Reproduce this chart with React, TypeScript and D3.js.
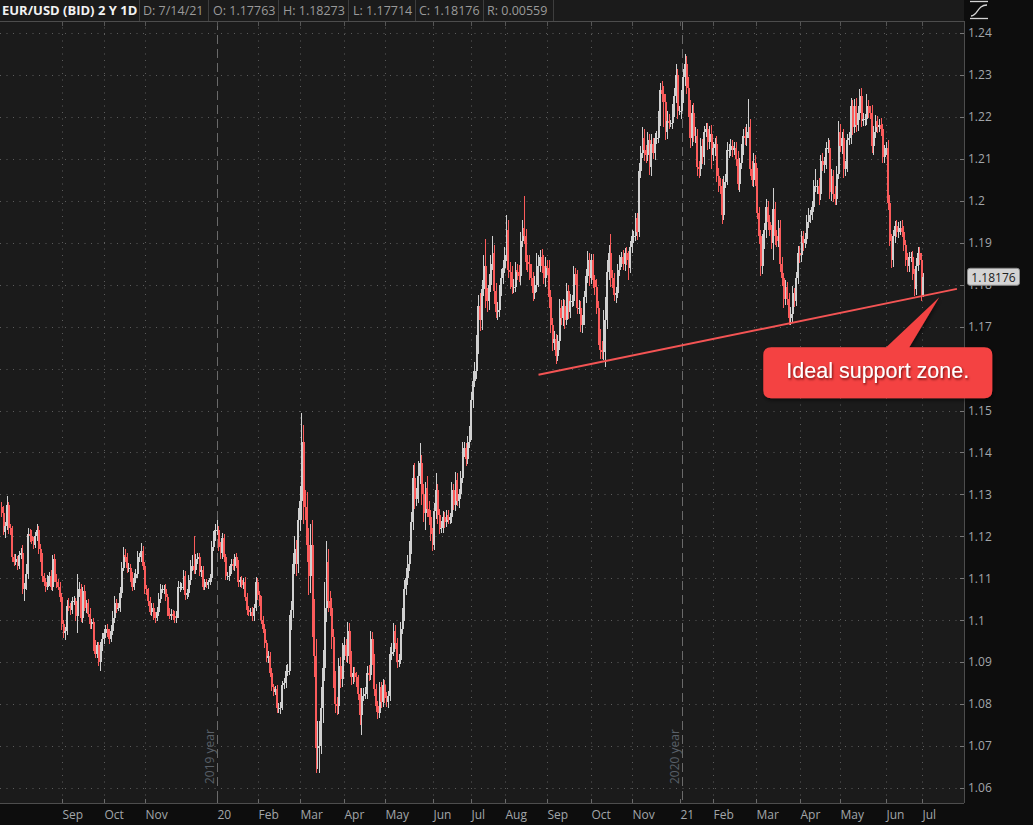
import React from "react";
import * as d3 from "d3";

// ---------- DATA ----------
const symbolTitle = "EUR/USD (BID) 2 Y 1D";
const headerFields = ["D: 7/14/21", "O: 1.17763", "H: 1.18273", "L: 1.17714", "C: 1.18176", "R: 0.00559"];
const lastPrice = 1.18176;
const firstOpen = 1.127;

// daily closes, one trading week per line (Jul 15 2019 .. Jul 14 2021)
const closes = [
  1.1255, 1.1210, 1.1225, 1.1275, 1.1220,
  1.1210, 1.1150, 1.1140, 1.1145, 1.1130,
  1.1155, 1.1160, 1.1075, 1.1080, 1.1110,
  1.1205, 1.1200, 1.1190, 1.1180, 1.1200,
  1.1215, 1.1170, 1.1150, 1.1105, 1.1090,
  1.1080, 1.1095, 1.1105, 1.1080, 1.1145,
  1.1100, 1.1090, 1.1080, 1.1055, 1.0990,
  1.0970, 1.0975, 1.1035, 1.1030, 1.1025,
  1.1045, 1.1045, 1.1010, 1.1065, 1.1075,
  1.1005, 1.1070, 1.1030, 1.1040, 1.1015,
  1.0990, 1.0995, 1.0940, 1.0920, 1.0940,
  1.0900, 1.0935, 1.0955, 1.0970, 1.0980,
  1.0970, 1.0955, 1.0975, 1.1005, 1.1040,
  1.1030, 1.1030, 1.1065, 1.1125, 1.1155,
  1.1150, 1.1125, 1.1125, 1.1105, 1.1080,
  1.1100, 1.1110, 1.1150, 1.1150, 1.1165,
  1.1130, 1.1075, 1.1070, 1.1045, 1.1020,
  1.1030, 1.1010, 1.1005, 1.1020, 1.1050,
  1.1075, 1.1075, 1.1075, 1.1055, 1.1020,
  1.1010, 1.1015, 1.1010, 1.1005, 1.1015,
  1.1080, 1.1080, 1.1080, 1.1105, 1.1060,
  1.1065, 1.1095, 1.1130, 1.1130, 1.1120,
  1.1145, 1.1150, 1.1115, 1.1120, 1.1080,
  1.1090, 1.1085, 1.1090, 1.1100, 1.1175,
  1.1200, 1.1215, 1.1215, 1.1175, 1.1160,
  1.1195, 1.1150, 1.1105, 1.1105, 1.1120,
  1.1135, 1.1130, 1.1150, 1.1135, 1.1090,
  1.1095, 1.1085, 1.1090, 1.1055, 1.1025,
  1.1020, 1.1020, 1.1010, 1.1030, 1.1090,
  1.1060, 1.1045, 1.1000, 1.0980, 1.0945,
  1.0910, 1.0915, 1.0875, 1.0840, 1.0830,
  1.0835, 1.0790, 1.0790, 1.0795, 1.0845,
  1.0850, 1.0880, 1.0880, 1.0995, 1.1025,
  1.1135, 1.1170, 1.1135, 1.1240, 1.1285,
  1.1425, 1.1280, 1.1270, 1.1180, 1.1105,
  1.1180, 1.1005, 1.0915, 1.0695, 1.0700,
  1.0720, 1.0790, 1.0885, 1.1030, 1.1140,
  1.1045, 1.1030, 1.0960, 1.0860, 1.0800,
  1.0795, 1.0890, 1.0860, 1.0920, 1.0940,
  1.0915, 1.0975, 1.0910, 1.0865, 1.0875,
  1.0865, 1.0855, 1.0825, 1.0775, 1.0820,
  1.0825, 1.0825, 1.0875, 1.0870, 1.0955,
  1.0905, 1.0835, 1.0795, 1.0780, 1.0840,
  1.0805, 1.0845, 1.0815, 1.0805, 1.0820,
  1.0920, 1.0925, 1.0975, 1.0945, 1.0900,
  1.0905, 1.0980, 1.1010, 1.1075, 1.1100,
  1.1135, 1.1170, 1.1235, 1.1340, 1.1290,
  1.1295, 1.1345, 1.1375, 1.1300, 1.1255,
  1.1315, 1.1265, 1.1245, 1.1205, 1.1180,
  1.1260, 1.1310, 1.1250, 1.1220, 1.1220,
  1.1245, 1.1235, 1.1250, 1.1240, 1.1245,
  1.1310, 1.1275, 1.1335, 1.1285, 1.1300,
  1.1340, 1.1405, 1.1410, 1.1385, 1.1425,
  1.1445, 1.1525, 1.1570, 1.1595, 1.1655,
  1.1750, 1.1715, 1.1790, 1.1845, 1.1775,
  1.1760, 1.1800, 1.1850, 1.1875, 1.1785,
  1.1735, 1.1740, 1.1785, 1.1815, 1.1840,
  1.1870, 1.1930, 1.1835, 1.1830, 1.1795,
  1.1795, 1.1835, 1.1830, 1.1820, 1.1905,
  1.1935, 1.1915, 1.1855, 1.1850, 1.1835,
  1.1815, 1.1780, 1.1800, 1.1815, 1.1845,
  1.1865, 1.1845, 1.1815, 1.1845, 1.1840,
  1.1770, 1.1705, 1.1660, 1.1670, 1.1630,
  1.1665, 1.1745, 1.1720, 1.1750, 1.1715,
  1.1785, 1.1735, 1.1760, 1.1760, 1.1825,
  1.1815, 1.1745, 1.1745, 1.1705, 1.1715,
  1.1770, 1.1820, 1.1860, 1.1815, 1.1860,
  1.1810, 1.1795, 1.1745, 1.1675, 1.1645,
  1.1640, 1.1715, 1.1720, 1.1830, 1.1875,
  1.1815, 1.1810, 1.1775, 1.1780, 1.1835,
  1.1855, 1.1865, 1.1850, 1.1875, 1.1860,
  1.1840, 1.1890, 1.1915, 1.1915, 1.1960,
  1.1925, 1.2070, 1.2115, 1.2150, 1.2120,
  1.2110, 1.2145, 1.2080, 1.2135, 1.2115,
  1.2150, 1.2150, 1.2195, 1.2265, 1.2255,
  1.2235, 1.2165, 1.2190, 1.2185, 1.2185,
  1.2215, 1.2250, 1.2300, 1.2215, 1.2215,
  1.2250, 1.2295, 1.2325, 1.2270, 1.2220,
  1.2150, 1.2210, 1.2155, 1.2155, 1.2080,
  1.2075, 1.2130, 1.2105, 1.2165, 1.2170,
  1.2140, 1.2160, 1.2110, 1.2125, 1.2135,
  1.2060, 1.2040, 1.2035, 1.1965, 1.2045,
  1.2050, 1.2120, 1.2120, 1.2130, 1.2120,
  1.2125, 1.2100, 1.2040, 1.2090, 1.2120,
  1.2155, 1.2150, 1.2165, 1.2175, 1.2075,
  1.2050, 1.2090, 1.2060, 1.1970, 1.1915,
  1.1845, 1.1900, 1.1930, 1.1985, 1.1950,
  1.1930, 1.1900, 1.1980, 1.1915, 1.1905,
  1.1935, 1.1850, 1.1815, 1.1765, 1.1795,
  1.1765, 1.1720, 1.1730, 1.1780, 1.1760,
  1.1815, 1.1875, 1.1870, 1.1915, 1.1900,
  1.1910, 1.1950, 1.1965, 1.1965, 1.1985,
  1.2035, 1.2035, 1.2035, 1.2015, 1.2095,
  1.2085, 1.2090, 1.2125, 1.2125, 1.2020,
  1.2060, 1.2015, 1.2005, 1.2065, 1.2165,
  1.2130, 1.2150, 1.2075, 1.2080, 1.2145,
  1.2150, 1.2225, 1.2175, 1.2225, 1.2180,
  1.2210, 1.2250, 1.2190, 1.2195, 1.2195,
  1.2225, 1.2215, 1.2210, 1.2130, 1.2165,
  1.2190, 1.2175, 1.2180, 1.2170, 1.2105,
  1.2120, 1.2125, 1.1995, 1.1905, 1.1860,
  1.1915, 1.1940, 1.1925, 1.1930, 1.1935,
  1.1925, 1.1895, 1.1860, 1.1845, 1.1865,
  1.1865, 1.1825, 1.1790, 1.1845, 1.1875,
  1.1860, 1.1776, 1.18176,
];

// wick above the body, in pips
const upperWicksPips = [
  12, 18, 10, 20, 8,
  10, 14, 9, 12, 7,
  9, 11, 20, 8, 25,
  15, 12, 14, 8, 10,
  14, 9, 12, 10, 8,
  10, 12, 9, 15, 11,
  14, 10, 8, 12, 9,
  11, 10, 14, 18, 12,
  10, 12, 9, 45, 15,
  12, 10, 14, 9, 11,
  15, 9, 10, 12, 8,
  8, 12, 15, 10, 9,
  12, 10, 14, 16, 18,
  10, 12, 15, 14, 20,
  14, 10, 12, 9, 11,
  12, 11, 14, 10, 18,
  12, 9, 10, 8, 11,
  10, 12, 9, 11, 14,
  12, 10, 9, 11, 8,
  9, 11, 10, 12, 8,
  14, 10, 9, 15, 12,
  10, 12, 14, 25, 70,
  12, 10, 11, 9, 10,
  8, 9, 7, 10, 15,
  12, 14, 24, 10, 12,
  12, 10, 9, 11, 10,
  10, 12, 9, 11, 8,
  9, 11, 10, 12, 10,
  8, 10, 11, 9, 14,
  10, 9, 12, 11, 10,
  9, 11, 10, 12, 8,
  8, 10, 12, 9, 11,
  12, 14, 15, 18, 20,
  25, 30, 22, 28, 35,
  70, 40, 30, 35, 40,
  50, 60, 45, 40, 60,
  40, 50, 45, 60, 50,
  30, 25, 22, 20, 18,
  18, 20, 22, 25, 20,
  15, 20, 18, 16, 14,
  14, 12, 15, 13, 18,
  14, 16, 15, 18, 20,
  18, 15, 14, 12, 13,
  12, 14, 13, 15, 12,
  15, 20, 18, 14, 12,
  14, 16, 18, 20, 25,
  20, 18, 22, 30, 35,
  20, 35, 47, 20, 25,
  15, 30, 20, 18, 15,
  20, 40, 15, 14, 16,
  15, 14, 12, 13, 10,
  20, 15, 18, 16, 14,
  15, 20, 16, 12, 14,
  18, 20, 25, 20, 25,
  25, 30, 20, 25, 64,
  18, 25, 20, 40, 20,
  20, 18, 15, 22, 20,
  20, 35, 25, 18, 15,
  18, 20, 15, 16, 20,
  20, 76, 18, 15, 20,
  14, 16, 20, 60, 25,
  18, 20, 25, 20, 15,
  20, 18, 15, 20, 12,
  15, 20, 18, 15, 14,
  20, 14, 18, 15, 20,
  14, 20, 18, 15, 12,
  14, 18, 20, 15, 12,
  12, 14, 18, 16, 20,
  20, 25, 50, 30, 20,
  45, 20, 18, 15, 14,
  15, 14, 18, 12, 14,
  20, 14, 15, 12, 10,
  12, 20, 15, 25, 20,
  14, 20, 15, 25, 15,
  12, 16, 20, 15, 20,
  18, 20, 25, 16, 8,
  15, 20, 25, 15, 12,
  15, 20, 24, 20, 25,
  20, 18, 22, 20, 15,
  15, 20, 18, 14, 16,
  15, 18, 20, 15, 14,
  20, 18, 15, 18, 15,
  14, 20, 15, 18, 16,
  14, 16, 18, 12, 15,
  15, 20, 18, 68, 20,
  20, 25, 20, 18, 15,
  15, 20, 18, 20, 15,
  15, 12, 50, 18, 15,
  20, 18, 15, 12, 15,
  12, 14, 16, 18, 12,
  15, 18, 16, 14, 12,
  14, 15, 18, 12, 15,
  15, 40, 14, 20, 15,
  20, 15, 14, 25, 20,
  15, 14, 20, 18, 25,
  18, 15, 20, 14, 15,
  14, 20, 15, 18, 20,
  15, 16, 18, 14, 12,
  30, 15, 12, 18, 14,
  14, 12, 15, 18, 12,
  12, 15, 20, 18, 15,
  15, 12, 14, 20, 16,
  18, 14, 12, 15, 14,
  14, 15, 12, 18, 15,
  14, 15, 10,
];

// wick below the body, in pips
const lowerWicksPips = [
  10, 6, 15, 9, 14,
  8, 12, 10, 9, 11,
  7, 10, 12, 30, 9,
  12, 14, 9, 11, 8,
  10, 12, 11, 14, 9,
  12, 9, 13, 8, 10,
  10, 12, 9, 11, 14,
  12, 16, 10, 9, 13,
  11, 9, 12, 40, 10,
  10, 12, 9, 13, 8,
  12, 10, 14, 9, 11,
  10, 21, 9, 11, 12,
  9, 12, 8, 10, 11,
  12, 9, 10, 11, 8,
  10, 12, 9, 13, 10,
  9, 12, 10, 11, 10,
  10, 12, 9, 11, 8,
  9, 10, 12, 8, 10,
  10, 9, 12, 10, 11,
  8, 10, 9, 11, 12,
  10, 12, 9, 8, 11,
  9, 10, 11, 12, 10,
  10, 12, 9, 11, 8,
  9, 8, 10, 7, 9,
  9, 10, 12, 11, 14,
  14, 12, 10, 9, 11,
  9, 10, 12, 10, 11,
  10, 9, 11, 10, 12,
  10, 9, 12, 11, 8,
  12, 10, 9, 11, 12,
  10, 12, 11, 9, 10,
  9, 10, 12, 14, 10,
  10, 12, 14, 11, 18,
  20, 25, 30, 22, 28,
  45, 50, 30, 40, 45,
  40, 45, 50, 60, 50,
  64, 40, 35, 30, 35,
  25, 20, 28, 22, 20,
  20, 18, 22, 19, 15,
  14, 18, 15, 20, 16,
  12, 14, 16, 25, 48,
  12, 14, 13, 15, 12,
  12, 15, 14, 16, 12,
  14, 12, 13, 11, 15,
  12, 14, 10, 13, 15,
  12, 10, 14, 12, 15,
  15, 18, 12, 20, 25,
  18, 15, 20, 25, 22,
  40, 20, 18, 15, 14,
  12, 18, 20, 14, 12,
  12, 14, 12, 10, 11,
  14, 12, 15, 12, 18,
  12, 14, 15, 18, 12,
  14, 16, 18, 15, 20,
  20, 25, 22, 18, 30,
  25, 20, 18, 15, 30,
  15, 20, 18, 12, 14,
  12, 14, 20, 40, 18,
  15, 12, 18, 14, 20,
  15, 18, 20, 20, 25,
  18, 20, 15, 18, 20,
  15, 18, 14, 20, 16,
  25, 20, 18, 16, 20,
  12, 20, 15, 18, 20,
  12, 18, 15, 14, 12,
  16, 14, 15, 18, 20,
  12, 14, 15, 18, 14,
  18, 20, 15, 20, 22,
  18, 20, 112, 25, 20,
  20, 18, 15, 18, 12,
  14, 12, 15, 18, 12,
  30, 12, 14, 15, 12,
  18, 12, 15, 14, 25,
  20, 14, 18, 20, 15,
  18, 14, 12, 16, 20,
  60, 20, 18, 15, 8,
  14, 16, 18, 20, 10,
  20, 18, 22, 15, 20,
  25, 20, 15, 18, 20,
  20, 15, 18, 20, 14,
  20, 16, 35, 15, 18,
  15, 20, 18, 20, 12,
  15, 12, 18, 14, 15,
  12, 18, 15, 20, 14,
  12, 18, 20, 15, 15,
  15, 18, 25, 14, 18,
  25, 20, 15, 18, 20,
  14, 16, 40, 20, 15,
  15, 20, 18, 20, 14,
  14, 16, 16, 20, 14,
  12, 14, 18, 15, 20,
  12, 14, 15, 18, 12,
  12, 15, 18, 25, 14,
  14, 18, 15, 12, 15,
  20, 18, 15, 14, 12,
  14, 18, 20, 15, 12,
  12, 15, 18, 14, 15,
  14, 18, 15, 12, 16,
  14, 18, 16, 15, 20,
  15, 14, 12, 16, 15,
  15, 12, 18, 12, 20,
  18, 15, 12, 14, 12,
  12, 14, 16, 15, 14,
  12, 14, 18, 15, 12,
  12, 16, 5,
];

const priceTicks = [1.06, 1.07, 1.08, 1.09, 1.1, 1.11, 1.12, 1.13, 1.14, 1.15, 1.16, 1.17, 1.18, 1.19, 1.2, 1.21, 1.22, 1.23, 1.24];
const monthLabels = ["Sep", "Oct", "Nov", "20", "Feb", "Mar", "Apr", "May", "Jun", "Jul", "Aug", "Sep", "Oct", "Nov", "21", "Feb", "Mar", "Apr", "May", "Jun", "Jul"];
const monthBarIndex = [34, 58, 81, 122, 145, 169, 194, 217, 244, 266, 285, 309, 334, 357, 384, 403, 427, 452, 475, 501, 521];
const yearLabels = ["2019 year", "2020 year"];
const yearBarIndex = [122, 385];
const supportBars = [304, 541];
const supportPrices = [1.1585, 1.179];
const calloutText = "Ideal support zone.";
const calloutTipBar = 531;
const calloutTipPrice = 1.177;

// ---------- CHART ----------
export default function App() {
  const W = 1033;
  const H = 825;
  const plotRight = 964;
  const plotTop = 21;
  const plotBottom = 803;
  const font = "'Open Sans', 'DejaVu Sans', sans-serif";

  const x = d3.scaleLinear().domain([-1, 545]).range([0, plotRight]);
  const y = d3.scaleLinear().domain([1.06, 1.24]).range([788, 33]);

  const bars = closes.map((c, i) => {
    const o = i === 0 ? firstOpen : closes[i - 1];
    const hi = Math.max(o, c) + upperWicksPips[i] / 10000;
    const lo = Math.min(o, c) - lowerWicksPips[i] / 10000;
    return { i, o, c, hi, lo, up: c >= o };
  });

  const upColor = "#d0d0d0";
  const downColor = "#fb5b5b";
  const gridColor = "#5c5c5c";

  const supportPath = d3
    .line<number>()
    .x((b) => x(supportBars[b]))
    .y((b) => y(supportPrices[b]))([0, 1]);

  const tipX = x(calloutTipBar);
  const tipY = y(calloutTipPrice);
  const boxL = tipX - 176;
  const boxR = tipX + 53;
  const boxT = tipY + 50;
  const boxB = tipY + 101;

  const sepX = [139, 208, 278, 348, 415, 483, 553];
  const fieldX = [143, 213, 283, 353, 419, 487];

  return (
    <div style={{ position: "absolute", left: 0, top: 0 }}>
      <svg width={W} height={H} style={{ display: "block", fontFamily: font }}>
        <defs>
          <clipPath id="plotClip">
            <rect x={0} y={plotTop} width={plotRight} height={plotBottom - plotTop} />
          </clipPath>
          <filter id="boxShadow" x="-10%" y="-20%" width="130%" height="160%">
            <feDropShadow dx="1" dy="2" stdDeviation="2" floodColor="#000" floodOpacity="0.55" />
          </filter>
          <filter id="textShadow" x="-5%" y="-20%" width="115%" height="150%">
            <feDropShadow dx="1" dy="1.5" stdDeviation="0.8" floodColor="#4a0000" floodOpacity="0.8" />
          </filter>
        </defs>

        {/* backgrounds */}
        <rect x={0} y={0} width={W} height={H} fill="#0d0d0d" />
        <rect x={0} y={0} width={plotRight} height={plotBottom} fill="#1b1b1b" />

        {/* grid */}
        <g clipPath="url(#plotClip)">
          {priceTicks.map((p) => (
            <line key={"hg" + p} x1={0} x2={plotRight} y1={Math.round(y(p)) + 0.5} y2={Math.round(y(p)) + 0.5}
              stroke={gridColor} strokeWidth={1} strokeDasharray="1,5.5" />
          ))}
          {monthBarIndex.map((b, k) => {
            const px = Math.round(x(b)) + 0.5;
            if (yearBarIndex.some((yb) => Math.abs(x(yb) - x(b)) < 6)) return null;
            return (
              <line key={"vg" + k} x1={px} x2={px} y1={plotTop} y2={plotBottom}
                stroke={gridColor} strokeWidth={1} strokeDasharray="1,5.5" />
            );
          })}
          {yearBarIndex.map((b, k) => {
            const px = Math.round(x(b)) + 0.5;
            return (
              <g key={"yl" + k}>
                <line x1={px} x2={px} y1={plotTop} y2={plotBottom} stroke="#6a6a6a" strokeWidth={1} strokeDasharray="9,5" />
                <text transform={`translate(${px - 4},784) rotate(-90)`} fontSize={12} fill="#596069">
                  {yearLabels[k]}
                </text>
              </g>
            );
          })}
        </g>

        {/* candles */}
        <g clipPath="url(#plotClip)" shapeRendering="crispEdges">
          {bars.map((d) => {
            const cx = x(d.i);
            const col = d.up ? upColor : downColor;
            const top = y(Math.max(d.o, d.c));
            const bot = y(Math.min(d.o, d.c));
            return (
              <g key={d.i}>
                <rect x={cx - 0.5} y={y(d.hi)} width={1} height={Math.max(1, y(d.lo) - y(d.hi))} fill={col} />
                <rect x={cx - 1} y={top} width={2} height={Math.max(1, bot - top)} fill={col} />
              </g>
            );
          })}
        </g>

        {/* support trend line */}
        <path d={supportPath || ""} stroke="#f45454" strokeWidth={2} fill="none" />

        {/* right axis */}
        <line x1={plotRight + 0.5} x2={plotRight + 0.5} y1={plotTop} y2={plotBottom} stroke="#4d4d4d" />
        {priceTicks.map((p) => (
          <g key={"yt" + p}>
            <line x1={plotRight - 4} x2={plotRight} y1={Math.round(y(p)) + 0.5} y2={Math.round(y(p)) + 0.5} stroke="#777" />
            <text x={plotRight + 4} y={y(p)} dy="0.36em" fontSize={12} fill="#a2a6aa">
              {String(+p.toFixed(2))}
            </text>
          </g>
        ))}

        {/* bottom axis */}
        <line x1={0} x2={plotRight} y1={plotBottom + 0.5} y2={plotBottom + 0.5} stroke="#4d4d4d" />
        {monthBarIndex.map((b, k) => {
          const px = Math.round(x(b)) + 0.5;
          return (
            <g key={"xt" + k}>
              <line x1={px} x2={px} y1={plotBottom - 4} y2={plotBottom} stroke="#6a6a6a" />
              <text x={px} y={819} fontSize={12} fill="#a2a6aa">{monthLabels[k]}</text>
            </g>
          );
        })}

        {/* header strip */}
        <line x1={0} x2={plotRight} y1={plotTop + 0.5} y2={plotTop + 0.5} stroke="#4d4d4d" />
        {monthBarIndex.map((b, k) => {
          const px = Math.round(x(b)) + 0.5;
          return <line key={"tt" + k} x1={px} x2={px} y1={plotTop + 1} y2={plotTop + 5} stroke="#555" />;
        })}
        <text x={2} y={15} fontSize={13} fontWeight="bold" fill="#f2f2f2">{symbolTitle}</text>
        {sepX.map((sx, k) => (
          <line key={"sep" + k} x1={sx + 0.5} x2={sx + 0.5} y1={0} y2={plotTop} stroke="#3e3e3e" />
        ))}
        {headerFields.map((f, k) => (
          <text key={"hf" + k} x={fieldX[k]} y={15} fontSize={12.5} fill="#9a9a9a">{f}</text>
        ))}

        {/* top-right icon */}
        <g stroke="#d4d4d4" strokeWidth={1.3} fill="none">
          <line x1={970} x2={988} y1={1.5} y2={1.5} />
          <line x1={970} x2={988} y1={18.5} y2={18.5} />
          <path d="M971,16 C978,16 977,5 987,5" />
        </g>

        {/* last price tag */}
        <rect x={967.5} y={y(lastPrice) - 9} width={52} height={17} rx={2.5} fill="#d4d4d4" stroke="#8c8c8c" />
        <text x={993.5} y={y(lastPrice)} dy="0.36em" textAnchor="middle" fontSize={12} fill="#202020">
          {lastPrice.toFixed(5)}
        </text>

        {/* callout */}
        <g filter="url(#boxShadow)">
          <path
            d={`M${boxL + 8},${boxT} L${tipX - 53},${boxT} L${tipX},${tipY} L${tipX - 30},${boxT} L${boxR - 8},${boxT} Q${boxR},${boxT} ${boxR},${boxT + 8} L${boxR},${boxB - 8} Q${boxR},${boxB} ${boxR - 8},${boxB} L${boxL + 8},${boxB} Q${boxL},${boxB} ${boxL},${boxB - 8} L${boxL},${boxT + 8} Q${boxL},${boxT} ${boxL + 8},${boxT} Z`}
            fill="#f44343"
          />
        </g>
        <text
          x={(boxL + boxR) / 2}
          y={boxB - 20}
          textAnchor="middle"
          fontSize={21.5}
          fill="#ffffff"
          filter="url(#textShadow)"
          style={{ fontFamily: "'Liberation Sans', Arial, sans-serif" }}
        >
          {calloutText}
        </text>
      </svg>
    </div>
  );
}
